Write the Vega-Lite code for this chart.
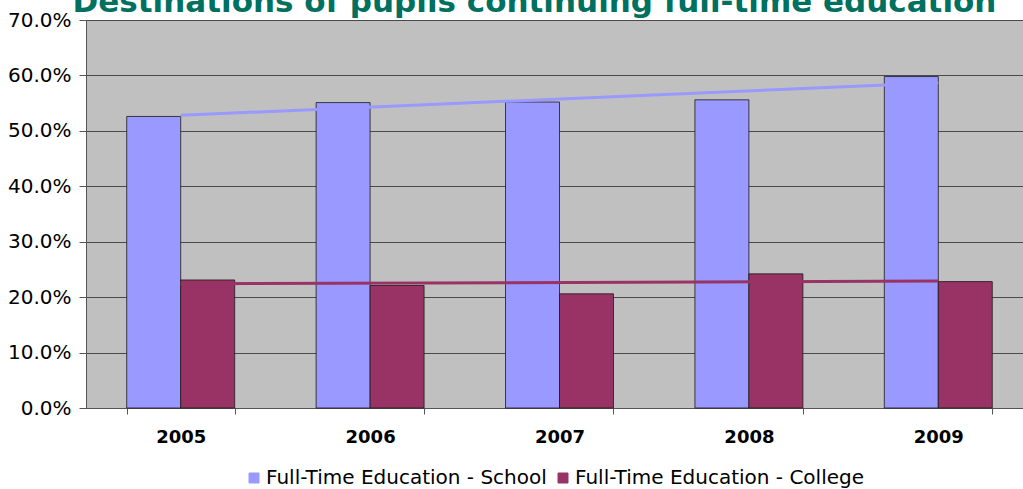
{
  "$schema": "https://vega.github.io/schema/vega-lite/v6.json",
  "width": 947,
  "height": 388,
  "autosize": {"type": "none"},
  "padding": {"left": 86, "top": 20, "right": -10, "bottom": 81},
  "background": "#ffffff",
  "title": {
    "text": "Destinations of pupils continuing full-time education",
    "font": "DejaVu Sans",
    "fontSize": 31,
    "fontWeight": "bold",
    "color": "#007060",
    "anchor": "middle",
    "baseline": "alphabetic",
    "offset": -33,
    "dx": -25
  },
  "datasets": {
    "bars": [
      {"year": "2005", "series": "Full-Time Education - School", "value": 0.526},
      {"year": "2006", "series": "Full-Time Education - School", "value": 0.551},
      {"year": "2007", "series": "Full-Time Education - School", "value": 0.552},
      {"year": "2008", "series": "Full-Time Education - School", "value": 0.556},
      {"year": "2009", "series": "Full-Time Education - School", "value": 0.598},
      {"year": "2005", "series": "Full-Time Education - College", "value": 0.231},
      {"year": "2006", "series": "Full-Time Education - College", "value": 0.221},
      {"year": "2007", "series": "Full-Time Education - College", "value": 0.206},
      {"year": "2008", "series": "Full-Time Education - College", "value": 0.242},
      {"year": "2009", "series": "Full-Time Education - College", "value": 0.228}
    ],
    "trend": [
      {"year": "2005", "series": "Full-Time Education - School", "trend": 0.528},
      {"year": "2009", "series": "Full-Time Education - School", "trend": 0.587},
      {"year": "2005", "series": "Full-Time Education - College", "trend": 0.224},
      {"year": "2009", "series": "Full-Time Education - College", "trend": 0.229}
    ]
  },
  "config": {
    "view": {"fill": "#C0C0C0", "stroke": "#555555", "strokeWidth": 1},
    "axis": {"labelColor": "#000000", "domainColor": "#555555", "tickColor": "#555555"}
  },
  "layer": [
    {
      "data": {"name": "bars"},
      "mark": {"type": "bar", "stroke": "#1a1a1a", "strokeWidth": 1, "strokeOpacity": 0.8},
      "encoding": {
        "x": {
          "field": "year",
          "type": "nominal",
          "scale": {"paddingInner": 0.43, "paddingOuter": 0.215},
          "axis": {
            "title": null,
            "labelAngle": 0,
            "labelFont": "DejaVu Sans",
            "labelFontSize": 18,
            "labelFontWeight": "bold",
            "labelPadding": 14,
            "tickSize": 6,
            "tickBand": "extent",
            "domainColor": "#555555"
          }
        },
        "xOffset": {
          "field": "series",
          "type": "nominal",
          "sort": ["Full-Time Education - School", "Full-Time Education - College"],
          "scale": {"paddingInner": 0, "paddingOuter": 0}
        },
        "y": {
          "field": "value",
          "type": "quantitative",
          "scale": {"domain": [0, 0.7], "nice": false},
          "axis": {
            "title": null,
            "values": [0, 0.1, 0.2, 0.3, 0.4, 0.5, 0.6, 0.7],
            "format": ".1%",
            "labelFont": "DejaVu Sans",
            "labelFontSize": 20,
            "labelPadding": 8,
            "tickSize": 7,
            "grid": true,
            "gridColor": "#4a4a4a",
            "gridWidth": 1
          }
        },
        "color": {
          "field": "series",
          "type": "nominal",
          "scale": {
            "domain": ["Full-Time Education - School", "Full-Time Education - College"],
            "range": ["#9999FF", "#993366"]
          },
          "legend": {
            "title": null,
            "orient": "none",
            "direction": "horizontal",
            "legendX": 158,
            "legendY": 448,
            "symbolType": "square",
            "symbolSize": 100,
            "symbolStrokeColor": "#333333",
            "symbolStrokeWidth": 1,
            "symbolOpacity": 1,
            "labelFont": "DejaVu Sans",
            "labelFontSize": 20,
            "labelLimit": 600,
            "labelColor": "#000000",
            "columnPadding": 6,
            "labelOffset": 2
          }
        }
      }
    },
    {
      "data": {"name": "trend"},
      "mark": {"type": "line", "strokeWidth": 3},
      "encoding": {
        "x": {"field": "year", "type": "nominal"},
        "y": {"field": "trend", "type": "quantitative"},
        "color": {"field": "series", "type": "nominal"}
      }
    }
  ]
}
